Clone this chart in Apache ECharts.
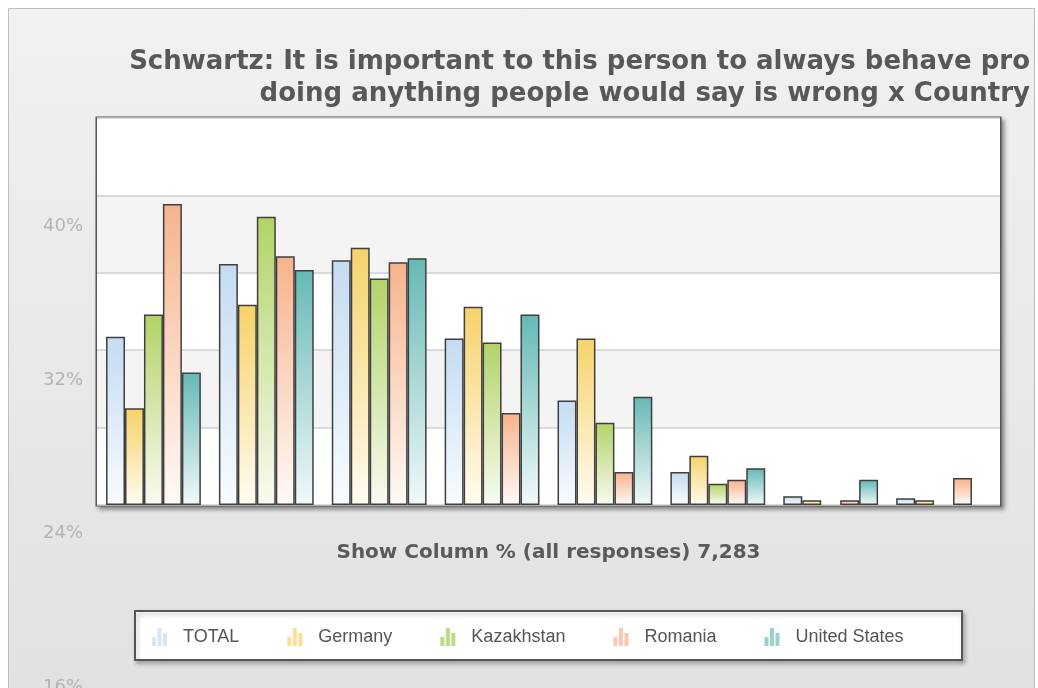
<!DOCTYPE html>
<html>
<head>
<meta charset="utf-8">
<script src="https://cdn.jsdelivr.net/npm/echarts@6/dist/echarts.min.js"></script>
<style>
html,body{margin:0;padding:0;background:#fff;}
#chart{width:1038px;height:688px;}
</style>
</head>
<body>
<div id="chart"></div>
<script>
// ---- data ----
var categories = ['Very much like me', 'Like me', 'Somewhat like me', 'A little like me', 'Not like me', 'Not at all like me', 'Refusal', "Don't know"];
var seriesNames = ['TOTAL', 'Germany', 'Kazakhstan', 'Romania', 'United States'];
var totalValues = [17.4, 24.9, 25.3, 17.2, 10.8, 3.4, 0.9, 0.7];
var germanyValues = [10.0, 20.7, 26.6, 20.5, 17.2, 5.1, 0.5, 0.5];
var kazakhstanValues = [19.7, 29.8, 23.4, 16.8, 8.5, 2.2, 0, 0];
var romaniaValues = [31.1, 25.7, 25.1, 9.5, 3.4, 2.6, 0.5, 2.8];
var usValues = [13.7, 24.3, 25.5, 19.7, 11.2, 3.8, 2.6, 0];
var tickLabelValues = [16, 24, 32, 40];
var titleLines = ['Schwartz: It is important to this person to always behave pro', 'doing anything people would say is wrong x Country'];
var axisTitle = 'Show Column % (all responses) 7,283';

// ---- styles ----
var topColors = ['#c4dbf1', '#f6d26a', '#b3d368', '#f6b38c', '#65b9b5'];
var bottomColors = ['#f9fcff', '#fffcf1', '#f8fbf1', '#fffaf7', '#f1f9f9'];
var iconColors = ['#c8dff4', '#f7d674', '#a8cd5a', '#f6b793', '#78c2bf'];
var allValues = [totalValues, germanyValues, kazakhstanValues, romaniaValues, usValues];

var chart = echarts.init(document.getElementById('chart'), null, {renderer: 'canvas'});
var iconPath = 'path://M0,9h4v9h-4z M5.5,0h4v18h-4z M11,5h4v13h-4z';

var series = seriesNames.map(function (name, i) {
  return {
    name: name,
    type: 'bar',
    xAxisIndex: 0,
    yAxisIndex: 0,
    barGap: '0%',
    barCategoryGap: '16%',
    data: allValues[i].map(function (v) {
      return v === 0 ? {value: v, itemStyle: {borderWidth: 0}} : v;
    }),
    itemStyle: {
      color: new echarts.graphic.LinearGradient(0, 0, 0, 1, [
        {offset: 0, color: topColors[i]},
        {offset: 1, color: bottomColors[i]}
      ]),
      borderColor: '#3f3f3f',
      borderWidth: 1.5
    },
    emphasis: {disabled: true}
  };
});

var option = {
  backgroundColor: '#ffffff',
  animation: false,
  graphic: [
    {
      type: 'rect', z: -10, silent: true,
      shape: {x: 8.5, y: 8.5, width: 1026, height: 700},
      style: {
        fill: new echarts.graphic.LinearGradient(0, 0, 0, 1, [
          {offset: 0, color: '#f1f1f1'},
          {offset: 1, color: '#e1e1e1'}
        ]),
        stroke: '#bdbdbd', lineWidth: 1
      }
    },
    {
      type: 'text', z: 10, silent: true,
      x: 1030, y: 46,
      style: {
        text: titleLines.join('\n'),
        font: 'bold 26px "DejaVu Sans"',
        fill: '#585858',
        lineHeight: 32,
        align: 'right',
        verticalAlign: 'top'
      }
    },
    {
      type: 'rect', z: 1, silent: true,
      shape: {x: 135, y: 611, width: 827, height: 49},
      style: {
        fill: '#ffffff', stroke: '#555555', lineWidth: 2,
        shadowColor: 'rgba(0,0,0,0.25)', shadowBlur: 4, shadowOffsetX: 2, shadowOffsetY: 3
      }
    }
  ],
  legend: {
    left: 147,
    top: 623,
    itemWidth: 15,
    itemHeight: 18,
    itemGap: 48,
    selectedMode: false,
    z: 5,
    textStyle: {
      fontFamily: 'Liberation Sans',
      fontSize: 18,
      color: '#555555',
      padding: [0, 0, 0, 11]
    },
    data: seriesNames.map(function (n, i) {
      return {name: n, icon: iconPath, itemStyle: {color: iconColors[i], opacity: 0.75, borderWidth: 0}};
    })
  },
  grid: [
    {
      left: 97, right: 38, top: 118, bottom: 183,
      outerBoundsMode: 'none',
      show: true,
      backgroundColor: '#ffffff',
      borderColor: '#555555',
      borderWidth: 3,
      shadowColor: 'rgba(0,0,0,0.35)',
      shadowBlur: 4,
      shadowOffsetX: 3,
      shadowOffsetY: 3
    },
    {
      left: 97, width: 903, top: 73, height: 614,
      outerBoundsMode: 'none'
    }
  ],
  xAxis: [
    {
      type: 'category',
      gridIndex: 0,
      data: categories,
      axisLine: {show: false},
      axisTick: {show: false},
      axisLabel: {show: false},
      name: axisTitle,
      nameLocation: 'middle',
      nameGap: 38,
      nameTextStyle: {
        fontFamily: 'DejaVu Sans',
        fontWeight: 'bold',
        fontSize: 20,
        color: '#5a5a5a'
      }
    },
    {
      type: 'category',
      gridIndex: 1,
      data: categories,
      show: false
    }
  ],
  yAxis: [
    {
      type: 'value',
      gridIndex: 0,
      min: 0, max: 40, interval: 8,
      axisLine: {show: false},
      axisTick: {show: false},
      axisLabel: {show: false},
      splitLine: {show: true, lineStyle: {color: '#cfcfcf', width: 1.5}},
      splitArea: {show: true, areaStyle: {color: ['#ffffff', '#f4f4f4']}}
    },
    {
      type: 'value',
      gridIndex: 1,
      min: 16, max: 48, interval: 8,
      axisLine: {show: false},
      axisTick: {show: false},
      splitLine: {show: false},
      axisLabel: {
        show: true,
        margin: 14,
        fontFamily: 'DejaVu Sans',
        fontSize: 18,
        color: '#b4b4b4',
        formatter: function (v) {
          return tickLabelValues.indexOf(v) >= 0 ? v + '%' : '';
        }
      }
    }
  ],
  series: series
};
chart.setOption(option);
</script>
</body>
</html>
